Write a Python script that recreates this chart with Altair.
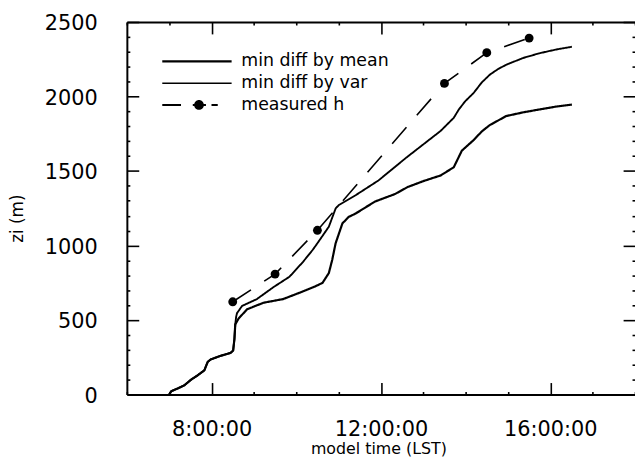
import altair as alt
import pandas as pd

# ---------------- data ----------------
SERIES = ["min diff by mean", "min diff by var", "measured h"]

# early part shared by both model runs (decimal hours LST, metres)
shared_t = [7.00, 7.05, 7.20, 7.36, 7.52, 7.67, 7.83, 7.91, 7.98, 8.20, 8.45, 8.51, 8.54, 8.56]
shared_v = [0, 22, 40, 62, 100, 128, 162, 219, 235, 258, 279, 295, 372, 470]

# "min diff by mean" (lower curve)
mean_t = [8.60, 8.64, 8.84, 9.23, 9.69, 10.08, 10.43, 10.62, 10.77, 10.85, 10.93, 11.09, 11.24,
          11.40, 11.86, 12.33, 12.63, 13.00, 13.41, 13.72, 13.91, 14.19, 14.38, 14.57, 14.96, 15.35,
          15.74, 16.13, 16.51]
mean_v = [490, 510, 572, 616, 640, 683, 723, 749, 815, 904, 1015, 1148, 1192,
          1214, 1295, 1345, 1392, 1432, 1470, 1525, 1636, 1708, 1765, 1808, 1869, 1893,
          1913, 1932, 1946]

# "min diff by var" (upper curve)
var_t = [8.58, 8.60, 8.72, 9.07, 9.46, 9.84, 10.16, 10.39, 10.50, 10.77, 10.93, 11.00, 11.40,
         11.94, 12.60, 13.41, 13.72, 13.84, 13.99, 14.19, 14.38, 14.57, 14.77, 14.96, 15.35,
         15.74, 16.13, 16.51]
var_v = [520, 545, 594, 640, 720, 790, 890, 971, 1015, 1126, 1248, 1270, 1337,
         1436, 1590, 1769, 1857, 1913, 1968, 2024, 2094, 2146, 2185, 2213, 2258,
         2290, 2315, 2334]

# measured boundary-layer height
meas_t = [8.5, 9.5, 10.5, 13.5, 14.5, 15.5]
meas_v = [622, 808, 1102, 2088, 2294, 2392]

X_TICKS = [8, 12, 16]
X_TICK_LABELS = ["8:00:00", "12:00:00", "16:00:00"]
X_MINOR = list(range(6, 19))
Y_TICKS = [0, 500, 1000, 1500, 2000, 2500]
Y_MINOR = list(range(0, 2501, 100))

# ---------------- tables ----------------
rows = []
for t, v in zip(shared_t + mean_t, shared_v + mean_v):
    rows.append({"series": SERIES[0], "t": t, "zi": v})
for t, v in zip(shared_t + var_t, shared_v + var_v):
    rows.append({"series": SERIES[1], "t": t, "zi": v})
for t, v in zip(meas_t, meas_v):
    rows.append({"series": SERIES[2], "t": t, "zi": v})
lines_df = pd.DataFrame(rows)
meas_df = pd.DataFrame({"t": meas_t, "zi": meas_v})

FONT = "DejaVu Sans"
W, H = 513, 376

label_expr = " : ".join(
    f"datum.value == {v} ? '{s}'" for v, s in zip(X_TICKS, X_TICK_LABELS)
) + " : ''"

xs = alt.Scale(domain=[6, 18], nice=False, zero=False)
ys = alt.Scale(domain=[0, 2500], nice=False, zero=False)

x_label_axis = alt.Axis(
    orient="bottom",
    values=X_TICKS, labelExpr=label_expr, ticks=False, tickSize=0, domain=False, grid=False,
    labelFont=FONT, labelFontSize=21, labelColor="black", labelPadding=24,
    title="model time (LST)", titleFont=FONT, titleFontSize=16, titleFontWeight="normal",
    titleColor="black", titleX=254, titleY=60, titleBaseline="alphabetic", titleAlign="center",
)
y_label_axis = alt.Axis(
    orient="left",
    values=Y_TICKS, format="d", ticks=False, tickSize=0, domain=False, grid=False,
    labelFont=FONT, labelFontSize=21, labelColor="black", labelPadding=30,
    labelBaseline="middle", labelOffset=2,
    title="zi (m)", titleFont=FONT, titleFontSize=17, titleFontWeight="normal",
    titleColor="black", titleX=-110, titleY=198, titleAngle=270,
    titleAlign="center", titleBaseline="middle",
)


def tick_axis(orient, offset, values, major_test, domain):
    return alt.Axis(
        orient=orient, offset=offset, values=values, labels=False, title=None, grid=False,
        domain=domain, domainColor="black", domainWidth=2,
        tickColor="black", tickWidth=1.6,
        tickSize={"condition": {"test": major_test, "value": 12}, "value": 3},
    )


x_major = "datum.value % 4 == 0"
y_major = "datum.value % 500 == 0"

# legend glyphs: filled unit paths (scaled by sqrt(symbolSize)/2 = 7 px per unit)
path_mean = "M-5,-0.16H5V0.16H-5Z"
path_var = "M-5,-0.11H5V0.11H-5Z"
path_meas = ("M-5,-0.14H-2.3V0.14H-5Z"
             "M-0.6,-0.14H1.3V0.14H-0.6Z"
             "M2.1,-0.14H3V0.14H2.1Z"
             "M-0.4,0A0.7,0.7,0,1,1,1.0,0A0.7,0.7,0,1,1,-0.4,0Z")

legend = alt.Legend(
    title=None, orient="none", legendX=62, legendY=31, padding=0,
    labelFont=FONT, labelFontSize=17.5, labelColor="black", labelOffset=36,
    rowPadding=3, symbolSize=196, symbolOpacity=1, symbolStrokeWidth=0,
    symbolFillColor="black", symbolStrokeColor="black",
)

width_scale = alt.Scale(domain=SERIES, range=[2.2, 1.6, 2.0])

lines = alt.Chart(lines_df).mark_line(color="black").encode(
    x=alt.X("t:Q", scale=xs, axis=x_label_axis),
    y=alt.Y("zi:Q", scale=ys, axis=y_label_axis),
    detail="series:N",
    strokeDash=alt.StrokeDash(
        "series:N", legend=None,
        scale=alt.Scale(domain=SERIES, range=[[1, 0], [1, 0], [22, 16]]),
    ),
    strokeWidth=alt.StrokeWidth("series:N", legend=None, scale=width_scale),
)

dots = alt.Chart(meas_df).mark_point(filled=True, size=80, color="black", opacity=1).encode(
    x=alt.X("t:Q", scale=xs, axis=tick_axis("top", -H, X_MINOR, x_major, True)),
    y=alt.Y("zi:Q", scale=ys, axis=tick_axis("right", -W, Y_MINOR, y_major, True)),
)

ghost = alt.Chart(lines_df).mark_point(
    filled=False, fill="black", stroke="black", opacity=0
).encode(
    x=alt.X("t:Q", scale=xs, axis=tick_axis("bottom", -H, X_MINOR, x_major, True)),
    y=alt.Y("zi:Q", scale=ys, axis=tick_axis("left", -W, Y_MINOR, y_major, False)),
    shape=alt.Shape(
        "series:N", legend=legend,
        scale=alt.Scale(domain=SERIES, range=[path_mean, path_var, path_meas]),
    ),
)

chart = alt.layer(ghost, lines, dots).resolve_axis(
    x="independent", y="independent"
).properties(
    width=W, height=H,
    autosize=alt.AutoSizeParams(type="none"),
    padding={"left": 120, "top": 12, "right": 0, "bottom": 61},
    background="white",
).configure_view(stroke="transparent")

chart.save("out.html", embed_options={"renderer": "svg", "actions": False})
